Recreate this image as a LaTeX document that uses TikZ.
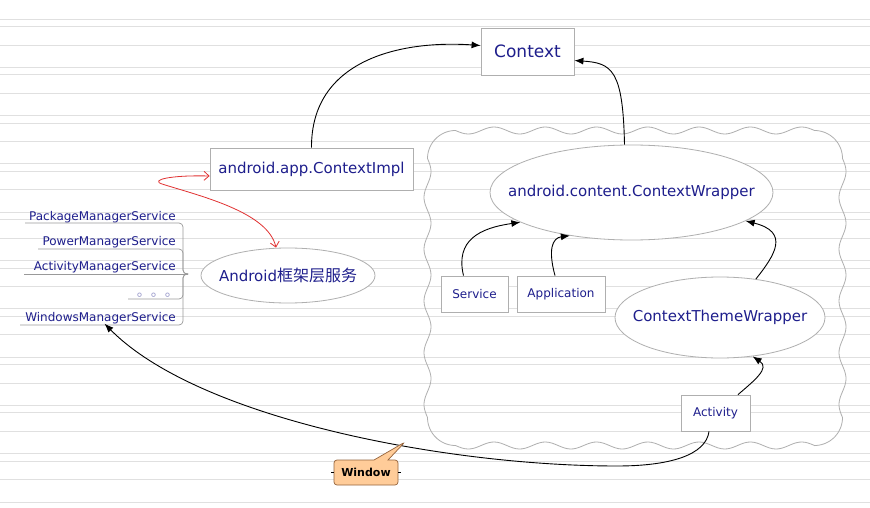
\documentclass[tikz,border=0pt]{standalone}
\usepackage{fontspec}
\setmainfont{DejaVu Sans}
\newfontfamily\cjk{Noto Sans CJK SC}
\usetikzlibrary{arrows.meta,shapes.geometric,shapes.callouts}
\definecolor{txt}{RGB}{30,30,140}
\definecolor{bord}{RGB}{175,175,175}
\definecolor{paper}{RGB}{224,224,224}
\definecolor{winfill}{RGB}{255,204,153}
\definecolor{winbord}{RGB}{150,100,60}
\definecolor{redarrow}{RGB}{225,50,50}
\begin{document}
\begin{tikzpicture}[x=1pt,y=-1pt,
 box/.style={draw=bord, fill=white, text=txt, inner sep=0pt, line width=0.8pt},
 oval/.style={ellipse, draw=bord, fill=white, text=txt, inner sep=0pt, line width=0.8pt},
 item/.style={text=txt, font=\fontsize{12}{14}\selectfont, anchor=base east, inner sep=0pt},
 conn/.style={line width=0.9pt, -{Latex[length=9pt,width=7pt]}},
 uline/.style={draw=gray!80, line width=0.7pt, rounded corners=4pt},
 big/.style={font=\fontsize{15}{18}\selectfont},
 small/.style={font=\fontsize{12}{14}\selectfont},
]
\useasboundingbox (0,0) rectangle (870,508);
\fill[white] (0,0) rectangle (870,508);
\foreach \k in {0,...,10} {
  \foreach \o in {19,26.5,45} {
    \draw[paper, line width=0.9pt] (0,{\o+48.3*\k}) -- (870,{\o+48.3*\k});
  }
}
% cloud (wavy rounded frame)
\draw[bord, line width=0.8pt, smooth]
  plot[domain=455.5:814.5, samples=120] (\x,{130.5+3.5*sin(7.0195*(\x-455.5))})
  -- plot[domain=270:360, samples=20] ({814.5+28*cos(\x)},{158.5+28*sin(\x)})
  -- plot[domain=158.5:417.5, samples=90] ({842.5+3.5*sin(6.9498*(\x-158.5))},\x)
  -- plot[domain=0:90, samples=20] ({814.5+28*cos(\x)},{417.5+28*sin(\x)})
  -- plot[domain=814.5:455.5, samples=120] (\x,{445.5+3.5*sin(7.0195*(\x-455.5))})
  -- plot[domain=90:180, samples=20] ({455.5+28*cos(\x)},{417.5+28*sin(\x)})
  -- plot[domain=417.5:158.5, samples=90] ({427.5+3.5*sin(6.9498*(\x-158.5))},\x)
  -- plot[domain=180:270, samples=20] ({455.5+28*cos(\x)},{158.5+28*sin(\x)});

% nodes
\node[box, minimum width=93pt, minimum height=47pt, font=\fontsize{17}{20}\selectfont] (ctx) at (527.5,51.5) {Context};
\node[box, big, minimum width=203pt, minimum height=42pt] (impl) at (311.5,169) {android.app.ContextImpl};
\node[oval, big, minimum width=174pt, minimum height=55pt] (fw) at (288,275.5) {\makebox[0pt]{Android{\cjk\fontsize{16}{18}\selectfont 框架层服务}}};
\node[oval, big, minimum width=283pt, minimum height=95pt] (cw) at (631.5,192.5) {\makebox[0pt]{android.content.ContextWrapper}};
\node[box, small, minimum width=67pt, minimum height=36pt] (svc) at (474.5,294) {Service};
\node[box, small, minimum width=88pt, minimum height=36pt] (app) at (561,294) {Application};
\node[oval, big, minimum width=210pt, minimum height=81pt] (ctw) at (720,317.5) {\makebox[0pt]{ContextThemeWrapper}};
\node[box, small, minimum width=69pt, minimum height=36pt] (act) at (715.5,413) {Activity};

% list
\node[item] (pms) at (176,220) {PackageManagerService};
\node[item] (pwr) at (176,245) {PowerManagerService};
\node[item] (ams) at (176,270) {ActivityManagerService};
\node[item, text=txt!45, font=\cjk\fontsize{14}{16}\selectfont] (dots) at (179,296) {。。。};
\node[item] (wms) at (176,321) {WindowsManagerService};
\coordinate (hub) at (188,274);
\draw[uline] (25,223) -- (183,223) -- (183,274) -- (hub);
\draw[uline] (38,249) -- (183,249) -- (183,274) -- (hub);
\draw[uline] (24,274) -- (hub);
\draw[uline] (128,299) -- (183,299) -- (183,274) -- (hub);
\draw[uline] (20,325) -- (183,325) -- (183,274) -- (hub);

% connectors
\draw[conn] (impl.north) .. controls (311,60) and (400,40) .. ([yshift=6pt]ctx.west);
\draw[conn] ([xshift=-7pt]cw.north) .. controls (623,70) and (612,63) .. ([yshift=-9pt]ctx.east);
\draw[conn] ([xshift=-11pt]svc.north) .. controls (455,240) and (480,228) .. (cw.195);
\draw[conn] ([xshift=-6pt]app.north) .. controls (548,250) and (552,238) .. (cw.215);
\draw[conn] (ctw.47) .. controls (775,255) and (790,232) .. (cw.-14);
\draw[conn] ([xshift=22.5pt]act.north) .. controls (755,380) and (770,368) .. (ctw.-50);
\draw[conn] ([xshift=-6.5pt]act.south) .. controls (706,455) and (670,466) .. (617,466)
   .. controls (450,466) and (200,420) .. ([xshift=4pt]wms.south);
\draw[redarrow, line width=0.8pt, {Straight Barb[length=5pt,width=9pt]}-{Straight Barb[length=5pt,width=9pt]}]
   ([xshift=-12pt]fw.north) .. controls (268,212) and (200,196) .. (162,184)
   .. controls (150,180) and (170,175) .. ([yshift=-7pt]impl.west);

% window callout
\coordinate (wp) at (405,442);
\node[rectangle callout, callout absolute pointer={(wp)}, callout pointer width=14pt, rounded corners=3pt,
  draw=winbord, fill=winfill, minimum width=64pt, minimum height=25pt, inner sep=0pt,
  font=\bfseries\fontsize{11}{13}\selectfont, line width=0.7pt] (win) at (366,472.5) {Window};
\draw[line width=0.6pt] (win.west) -- ++(-3,0);
\draw[line width=0.6pt] (win.east) -- ++(3,0);
\end{tikzpicture}
\end{document}
